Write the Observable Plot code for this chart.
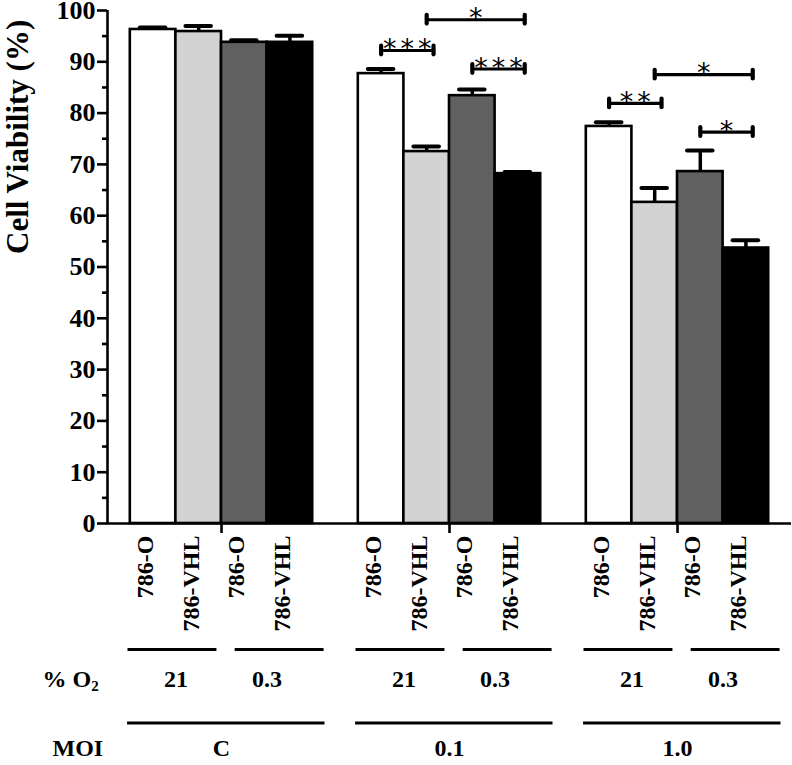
<!DOCTYPE html>
<html><head><meta charset="utf-8">
<script src="https://cdn.jsdelivr.net/npm/d3@7"></script>
<script src="https://cdn.jsdelivr.net/npm/@observablehq/plot@0.6"></script>
<style>
html,body{margin:0;padding:0;background:#fff;}
#chart svg{display:block;}
</style></head><body><div id="chart"></div>
<script>
// ---- data ----
const moiLabels = ["C", "0.1", "1.0"];
const o2Labels = ["21", "0.3"];
const cellLines = ["786-O", "786-VHL"];
const barKeys = ["786-O / 21%", "786-VHL / 21%", "786-O / 0.3%", "786-VHL / 0.3%"];
const viabilityC   = [96.3, 95.9, 93.8, 93.8];
const viability01  = [87.7, 72.5, 83.4, 68.2];
const viability10  = [77.4, 62.6, 68.6, 53.7];
const semC  = [0.4, 1.1, 0.4, 1.3];
const sem01 = [0.9, 1.0, 1.2, 0.3];
const sem10 = [0.8, 2.8, 4.1, 1.5];
const yTicks = [0, 10, 20, 30, 40, 50, 60, 70, 80, 90, 100];
const yMinorTicks = [5, 15, 25, 35, 45, 55, 65, 75, 85, 95];
// significance brackets
const sigMoi     = ["0.1", "0.1", "0.1", "1.0", "1.0", "1.0"];
const sigFromBar = [0, 1, 2, 0, 1, 2];
const sigToBar   = [1, 3, 3, 1, 3, 3];
const sigLevel   = [92.2, 98.2, 88.6, 81.9, 87.5, 76.3];
const sigLabel   = ["***", "*", "***", "**", "*", "*"];

// ---- build tables ----
const barColors = ["#ffffff", "#d3d3d3", "#606060", "#000000"];
const groupStart = g => 0.5 + 5 * g;           // slot layout: half gap, 4 bars, gap...
const valuesByGroup = [viabilityC, viability01, viability10];
const semByGroup = [semC, sem01, sem10];
const bars = [];
moiLabels.forEach((moi, g) => {
  for (let k = 0; k < 4; k++) {
    bars.push({
      moi, g, k,
      key: barKeys[k],
      cell: cellLines[k % 2],
      o2: o2Labels[Math.floor(k / 2)],
      value: valuesByGroup[g][k],
      err: semByGroup[g][k],
      x1: groupStart(g) + k,
      x2: groupStart(g) + k + 1,
      cx: groupStart(g) + k + 0.5
    });
  }
});
const brackets = sigMoi.map((moi, i) => {
  const g = moiLabels.indexOf(moi);
  return {
    x1: groupStart(g) + sigFromBar[i] + 0.5,
    x2: groupStart(g) + sigToBar[i] + 0.65,
    level: sigLevel[i],
    label: sigLabel[i]
  };
});
const bracketEnds = brackets.flatMap(b => [{x: b.x1, level: b.level}, {x: b.x2, level: b.level}]);
const pairs = [];
moiLabels.forEach((moi, g) => o2Labels.forEach((o2, j) => pairs.push({
  o2, x: groupStart(g) + 2 * j + 1,
  x1: groupStart(g) + (j === 0 ? -0.05 : 2.3),
  x2: groupStart(g) + (j === 0 ? 1.9 : 4.25)
})));
const groups = moiLabels.map((moi, g) => ({
  moi, x: groupStart(g) + 2, x1: groupStart(g) - 0.06, x2: groupStart(g) + 4.27
}));

const serif = "'Liberation Serif', 'Times New Roman', Times, serif";
const AX = 2.6;

const chart = Plot.plot({
  width: 792,
  height: 765,
  marginLeft: 107,
  marginRight: 1,
  marginTop: 10,
  marginBottom: 242,
  style: {fontFamily: serif, fontWeight: "bold", fontSize: "24px", background: "#fff", color: "#000", overflow: "visible"},
  x: {domain: [0, 15]},
  y: {domain: [0, 100]},
  color: {domain: barKeys, range: barColors},
  marks: [
    Plot.rectY(bars, {x1: "x1", x2: "x2", y: "value", fill: "key", stroke: "#000", strokeWidth: 2.6}),
    Plot.ruleX(bars, {x: "cx", y1: "value", y2: d => d.value + d.err, stroke: "#000", strokeWidth: 3.5}),
    Plot.ruleY(bars, {y: d => d.value + d.err, x1: d => d.cx - 0.28, x2: d => d.cx + 0.28, stroke: "#000", strokeWidth: 4, strokeLinecap: "round"}),
    // axes
    Plot.axisY(yTicks, {tickSize: 10, tickPadding: 2, strokeWidth: AX, fontSize: 26, fontWeight: "bold", label: null}),
    Plot.axisY(yMinorTicks, {tickSize: 5, strokeWidth: AX, tickFormat: () => "", label: null}),
    Plot.axisX(groups.map(d => d.x), {tickSize: 10, strokeWidth: AX, tickFormat: () => "", label: null}),
    Plot.ruleX([0], {y1: 0, y2: 100, strokeWidth: AX}),
    Plot.ruleY([0], {strokeWidth: AX}),
    Plot.text(["Cell Viability (%)"], {frameAnchor: "left", rotate: -90, dx: -89, dy: -13, fontSize: 31, fontWeight: "bold"}),
    // significance
    Plot.ruleY(brackets, {y: "level", x1: "x1", x2: "x2", strokeWidth: 3.2}),
    Plot.ruleX(bracketEnds, {x: "x", y1: d => d.level - 0.85, y2: d => d.level + 0.85, strokeWidth: 4.2, strokeLinecap: "round"}),
    Plot.text(brackets, {x: d => (d.x1 + d.x2) / 2, y: "level", text: "label", dx: 2, dy: -1, fontFamily: "'DejaVu Sans', sans-serif", fontWeight: "normal", fontSize: 27}),
    // category labels under the bars
    Plot.text(bars, {x: "cx", frameAnchor: "bottom", text: "cell", rotate: -90, textAnchor: "end", dy: 12, fontSize: 24}),
    Plot.ruleY(pairs, {y: () => 0, x1: "x1", x2: "x2", dy: 126, strokeWidth: 3}),
    Plot.text(pairs, {x: "x", frameAnchor: "bottom", text: "o2", dy: 163, fontSize: 24}),
    Plot.ruleY(groups, {y: () => 0, x1: "x1", x2: "x2", dy: 199.5, strokeWidth: 3}),
    Plot.text(groups, {x: "x", frameAnchor: "bottom", text: "moi", dy: 232, fontSize: 24}),
    Plot.text(["% O"], {frameAnchor: "bottom-left", textAnchor: "start", dx: -65, dy: 163, fontSize: 24}),
    Plot.text(["MOI"], {frameAnchor: "bottom-left", textAnchor: "start", dx: -55, dy: 232, fontSize: 24})
  ]
});
document.getElementById("chart").appendChild(chart);
// subscript 2 for O2
d3.select(chart).selectAll("text").filter(function() { return this.textContent === "% O"; })
  .append("tspan").attr("font-size", 15).attr("dy", "0.3em").text("2");
// spaced significance stars
d3.select(chart).selectAll("text").filter(function() { return /^\*+$/.test(this.textContent); })
  .style("letter-spacing", "4px");
</script>
</body></html>
